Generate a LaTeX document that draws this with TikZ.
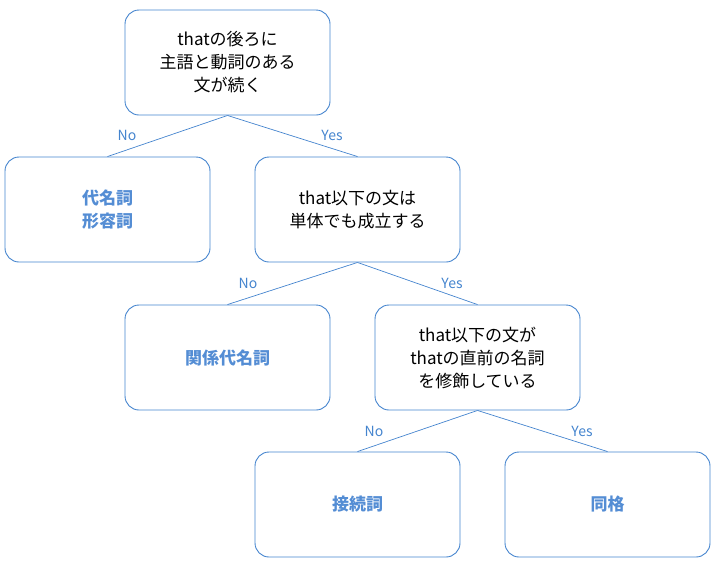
\documentclass[tikz,border=0pt]{standalone}
\usepackage{fontspec}
\setmainfont{Noto Sans CJK JP}
\newfontfamily\boldjp[BoldFont={Noto Sans CJK JP Bold}]{Noto Sans CJK JP}
\definecolor{bl}{RGB}{68,132,206}
\definecolor{tb}{RGB}{84,141,212}
\begin{document}
\begin{tikzpicture}[x=1pt,y=-1pt,
  box/.style={draw=bl,line width=0.9pt,rounded corners=14pt,minimum width=205pt,minimum height=105pt,align=center,font=\fontsize{17}{23}\selectfont,inner sep=0pt},
  ans/.style={box,text=tb,font=\fontsize{17}{23}\selectfont\bfseries},
  edge/.style={draw=bl,line width=0.7pt},
  lab/.style={text=bl,font=\fontsize{14}{16}\selectfont,inner sep=1pt}]
\useasboundingbox (0,0) rectangle (715,568);
\node[box] (q1) at (227.5,62.5) {thatの後ろに\\主語と動詞のある\\文が続く};
\node[ans] (a1) at (107.5,209.5) {代名詞\\形容詞};
\node[box] (q2) at (357.5,209.5) {that以下の文は\\単体でも成立する};
\node[ans] (a2) at (227.5,357.5) {関係代名詞};
\node[box] (q3) at (477.5,357.5) {that以下の文が\\thatの直前の名詞\\を修飾している};
\node[ans] (a3) at (357.5,504.5) {接続詞};
\node[ans] (a4) at (607.5,504.5) {同格};
\draw[edge] (q1.south) -- (a1.north);
\draw[edge] (q1.south) -- (q2.north);
\draw[edge] (q2.south) -- (a2.north);
\draw[edge] (q2.south) -- (q3.north);
\draw[edge] (q3.south) -- (a3.north);
\draw[edge] (q3.south) -- (a4.north);
\node[lab] (n1) at (127,135) {No};
\node[lab] (y1) at (332,135) {Yes};
\node[lab] (n2) at (248,283) {No};
\node[lab] (y2) at (452,283) {Yes};
\node[lab] (n3) at (374,431) {No};
\node[lab] (y3) at (582,431) {Yes};
\end{tikzpicture}
\end{document}
